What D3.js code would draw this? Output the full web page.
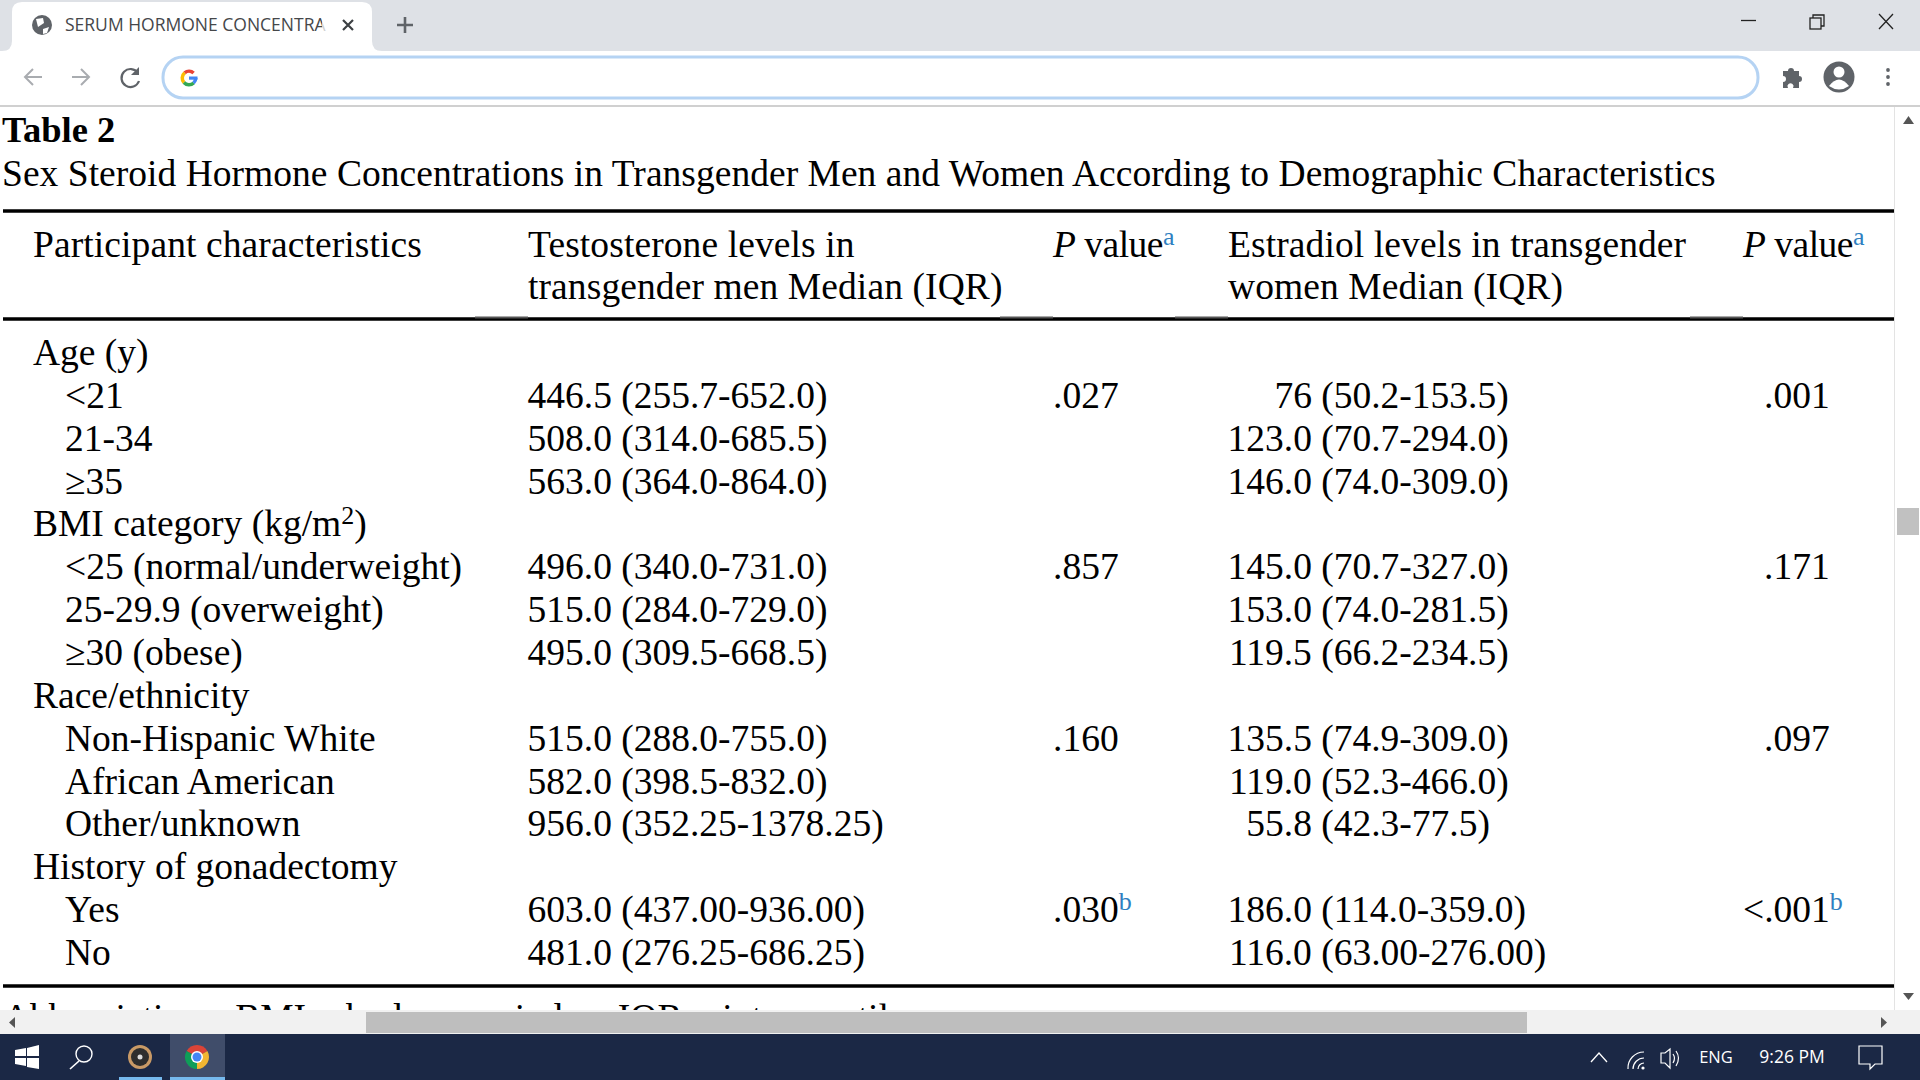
<!DOCTYPE html>
<html lang="en">

<head>
    <meta charset="utf-8">
    <script src="https://d3js.org/d3.v7.min.js"></script>
    <style>
        html, body { margin: 0; padding: 0; background: #fff; overflow: hidden; }
        svg { display: block; }
        .doc { font-family: "Liberation Serif", serif; fill: #000; }
        .ui { font-family: "Open Sans", "Noto Sans", sans-serif; }
    </style>
</head>

<body>
    <svg width="1920" height="1080"></svg>

    <script>
        // table content
        var tableLabel = "Table 2";
        var tableTitle = "Sex Steroid Hormone Concentrations in Transgender Men and Women According to Demographic Characteristics";
        var footnote = "Abbreviations: BMI = body mass index; IQR = interquartile range.";

        var characteristics = ["Age (y)", "<21", "21-34", "\u226535", "BMI category (kg/m|2|)",
            "<25 (normal/underweight)", "25-29.9 (overweight)", "\u226530 (obese)", "Race/ethnicity",
            "Non-Hispanic White", "African American", "Other/unknown", "History of gonadectomy", "Yes", "No"];
        var isGroupRow = [1, 0, 0, 0, 1, 0, 0, 0, 1, 0, 0, 0, 1, 0, 0];
        var testosterone = ["", "446.5 (255.7-652.0)", "508.0 (314.0-685.5)", "563.0 (364.0-864.0)", "",
            "496.0 (340.0-731.0)", "515.0 (284.0-729.0)", "495.0 (309.5-668.5)", "",
            "515.0 (288.0-755.0)", "582.0 (398.5-832.0)", "956.0 (352.25-1378.25)", "",
            "603.0 (437.00-936.00)", "481.0 (276.25-686.25)"];
        var testosteroneP = ["", ".027", "", "", "", ".857", "", "", "", ".160", "", "", "", ".030", ""];
        var testosteronePNote = ["", "", "", "", "", "", "", "", "", "", "", "", "", "b", ""];
        var estradiol = ["", "76 (50.2-153.5)", "123.0 (70.7-294.0)", "146.0 (74.0-309.0)", "",
            "145.0 (70.7-327.0)", "153.0 (74.0-281.5)", "119.5 (66.2-234.5)", "",
            "135.5 (74.9-309.0)", "119.0 (52.3-466.0)", "55.8 (42.3-77.5)", "",
            "186.0 (114.0-359.0)", "116.0 (63.00-276.00)"];
        var estradiolP = ["", ".001", "", "", "", ".171", "", "", "", ".097", "", "", "", "<.001", ""];
        var estradiolPNote = ["", "", "", "", "", "", "", "", "", "", "", "", "", "b", ""];

        var columns = ["characteristic", "testosterone", "testosteroneP", "estradiol", "estradiolP"];

        var svg = d3.select("svg");
        var textSize = 37.5;
        var noteSize = 26;
        var noteBlue = "#2f7fc1";

        //scales for the table grid
        var y = d3.scalePoint()
            .domain(d3.range(characteristics.length))
            .range([365, 965]);

        var x = d3.scaleOrdinal()
            .domain(columns)
            .range([33, 528, 1053, 1228, 1743]);

        var pageClip = svg.append("clipPath").attr("id", "pageClip");
        pageClip.append("rect").attr("x", 0).attr("y", 106).attr("width", 1894).attr("height", 904);

        var page = svg.append("g").attr("class", "doc").attr("clip-path", "url(#pageClip)");

        //title block
        page.append("text").attr("x", 2).attr("y", 142)
            .attr("font-size", 36.5).attr("font-weight", "bold").text(tableLabel);
        page.append("text").attr("x", 2).attr("y", 185.5)
            .attr("font-size", textSize).attr("letter-spacing", 0.03).text(tableTitle);

        //the three rules
        page.selectAll(".rule")
            .data([211, 319, 986])
            .enter().append("line")
            .attr("class", "rule")
            .attr("x1", 3).attr("x2", 1894)
            .attr("y1", function (d) { return d; })
            .attr("y2", function (d) { return d; })
            .attr("stroke", "#000").attr("stroke-width", 3.5);

        //the header rule is a bit heavier in the gaps between columns
        page.selectAll(".rule-gap")
            .data(columns.slice(1))
            .enter().append("rect")
            .attr("class", "rule-gap")
            .attr("x", function (d) { return x(d) - 53; })
            .attr("y", 316.5)
            .attr("width", 53)
            .attr("height", 2)
            .attr("fill", "#555");

        //header
        function header(col, top, bottom) {
            page.append("text").attr("x", x(col)).attr("y", 256.5).attr("font-size", textSize)
                .attr("letter-spacing", 0.1).text(top);
            if (bottom) {
                page.append("text").attr("x", x(col)).attr("y", 298.5).attr("font-size", textSize)
                    .attr("letter-spacing", 0.1).text(bottom);
            }
        }

        function pHeader(col) {
            var t = page.append("text").attr("x", x(col)).attr("y", 256.5).attr("font-size", textSize)
                .attr("letter-spacing", -0.5);
            t.append("tspan").attr("font-style", "italic").text("P");
            t.append("tspan").text(" value");
            t.append("tspan").attr("font-size", noteSize).attr("dy", -12).attr("fill", noteBlue).text("a");
        }

        header("characteristic", "Participant characteristics");
        header("testosterone", "Testosterone levels in", "transgender men Median (IQR)");
        pHeader("testosteroneP");
        header("estradiol", "Estradiol levels in transgender", "women Median (IQR)");
        pHeader("estradiolP");

        //first column
        page.selectAll(".label")
            .data(characteristics)
            .enter().append("text")
            .attr("class", "label")
            .attr("x", function (d, i) { return x("characteristic") + (isGroupRow[i] ? 0 : 32); })
            .attr("y", function (d, i) { return y(i); })
            .attr("font-size", textSize)
            .each(function (d) {
                // the | marks a superscript
                var parts = d.split("|");
                var t = d3.select(this);
                t.append("tspan").text(parts[0]);
                if (parts.length > 1) {
                    t.append("tspan").attr("font-size", noteSize).attr("dy", -12).text(parts[1]);
                    t.append("tspan").attr("dy", 12).text(parts[2]);
                }
            });

        //median (IQR) cells line up on the opening bracket
        function medianColumn(values, col, bracketX) {
            page.selectAll(".cell-" + col)
                .data(values)
                .enter().append("text")
                .attr("class", "cell-" + col)
                .attr("y", function (d, i) { return y(i); })
                .attr("font-size", textSize)
                .text(function (d) { return d; })
                .attr("x", function (d) {
                    if (!d) return 0;
                    return bracketX - this.getSubStringLength(0, d.indexOf("("));
                });
        }

        var probe = page.append("text").attr("font-size", textSize).text("123.0 (");
        var medianWidth = probe.node().getSubStringLength(0, 6);
        probe.remove();

        medianColumn(testosterone, "testosterone", x("testosterone") + medianWidth - 0.5);
        medianColumn(estradiol, "estradiol", x("estradiol") + medianWidth - 0.5);

        //p value cells
        function pColumn(values, notes, col, shift) {
            page.selectAll(".cell-" + col)
                .data(values)
                .enter().append("text")
                .attr("class", "cell-" + col)
                .attr("y", function (d, i) { return y(i); })
                .attr("x", function (d) { return x(col) + (d.charAt(0) === "<" ? 0 : shift); })
                .attr("font-size", textSize)
                .each(function (d, i) {
                    var t = d3.select(this);
                    t.append("tspan").text(d);
                    if (notes[i]) {
                        t.append("tspan").attr("font-size", noteSize).attr("dy", -12).attr("fill", noteBlue).text(notes[i]);
                    }
                });
        }

        pColumn(testosteroneP, testosteronePNote, "testosteroneP", 0);
        pColumn(estradiolP, estradiolPNote, "estradiolP", 21);

        //cut off by the window edge
        page.append("text").attr("x", 3).attr("y", 1030).attr("font-size", textSize).text(footnote);

        // browser tab strip
        var chrome = svg.append("g");
        chrome.append("rect").attr("width", 1920).attr("height", 51).attr("fill", "#dee1e6");
        chrome.append("rect").attr("y", 51).attr("width", 1920).attr("height", 54).attr("fill", "#fff");
        chrome.append("rect").attr("y", 105).attr("width", 1920).attr("height", 2).attr("fill", "#d0d0d0");
        chrome.append("path")
            .attr("d", "M2,51 Q12,51 12,41 V12 Q12,2 22,2 H362 Q372,2 372,12 V41 Q372,51 382,51 Z")
            .attr("fill", "#fff");
        chrome.append("circle").attr("cx", 42).attr("cy", 25).attr("r", 10).attr("fill", "#5f6368");
        chrome.append("path").attr("d", "M36,19 L43,18 L44,23 L38,27 Z M43,29 L49,27 L47,33 L43,34 Z").attr("fill", "#fff");
        chrome.append("text").attr("class", "ui").attr("x", 65).attr("y", 31)
            .attr("font-size", 17.5).attr("fill", "#45474a").text("SERUM HORMONE CONCENTRA");
        chrome.append("rect").attr("x", 322).attr("y", 10).attr("width", 12).attr("height", 30).attr("fill", "#fff").attr("opacity", 0.75);
        chrome.append("path").attr("d", "M343,20 L353,30 M353,20 L343,30")
            .attr("stroke", "#3c4043").attr("stroke-width", 2.2);
        chrome.append("path").attr("d", "M405,17 V33 M397,25 H413")
            .attr("stroke", "#5f6368").attr("stroke-width", 2.6);

        //window buttons
        chrome.append("path").attr("d", "M1741,20.5 H1756").attr("stroke", "#222").attr("stroke-width", 1.3);
        chrome.append("rect").attr("x", 1810).attr("y", 18).attr("width", 11).attr("height", 11)
            .attr("fill", "none").attr("stroke", "#222").attr("stroke-width", 1.3);
        chrome.append("path").attr("d", "M1813,18 V15 H1824 V26 H1821").attr("fill", "none").attr("stroke", "#222").attr("stroke-width", 1.3);
        chrome.append("path").attr("d", "M1879,14 L1893,29 M1893,14 L1879,29").attr("stroke", "#222").attr("stroke-width", 1.3);

        //toolbar
        chrome.append("path").attr("d", "M42,77 H25 M33,69 L25,77 L33,85").attr("fill", "none")
            .attr("stroke", "#a9acb0").attr("stroke-width", 2);
        chrome.append("path").attr("d", "M72,77 H89 M81,69 L89,77 L81,85").attr("fill", "none")
            .attr("stroke", "#a9acb0").attr("stroke-width", 2);
        chrome.append("path").attr("d", "M138,73 A9,9 0 1 0 139,81").attr("fill", "none")
            .attr("stroke", "#5f6368").attr("stroke-width", 2.2);
        chrome.append("path").attr("d", "M139,67 V75 H131 Z").attr("fill", "#5f6368");
        chrome.append("rect").attr("x", 163).attr("y", 57).attr("width", 1595).attr("height", 41).attr("rx", 20)
            .attr("fill", "#fff").attr("stroke", "#b5d3f3").attr("stroke-width", 3);

        //google mark
        var gArc = d3.arc().innerRadius(5).outerRadius(8.5);
        var gColours = [["#ea4335", -0.7, 0.75], ["#fbbc05", -2.3, -0.7], ["#34a853", -3.9, -2.3], ["#4285f4", 1.57, 2.4]];
        chrome.selectAll(".g-mark")
            .data(gColours)
            .enter().append("path")
            .attr("class", "g-mark")
            .attr("transform", "translate(189,78)")
            .attr("d", function (d) { return gArc({ startAngle: d[1], endAngle: d[2] }); })
            .attr("fill", function (d) { return d[0]; });
        chrome.append("rect").attr("x", 189).attr("y", 76.5).attr("width", 8.5).attr("height", 3.2).attr("fill", "#4285f4");

        //extension, profile and menu
        chrome.append("path")
            .attr("d", "M1783,71 h5 a3,3 0 1 1 6,0 h5 v5 a3,3 0 1 1 0,6 v6 h-6 a3,3 0 1 0 -5,0 h-5 v-6 a3,3 0 1 0 0,-6 Z")
            .attr("fill", "#5f6368");
        chrome.append("circle").attr("cx", 1839).attr("cy", 77).attr("r", 15.5).attr("fill", "#5f6368");
        chrome.append("circle").attr("cx", 1839).attr("cy", 72).attr("r", 5.5).attr("fill", "#fff");
        chrome.append("path").attr("d", "M1829,86 Q1839,73 1849,86 Q1839,93 1829,86 Z").attr("fill", "#fff");
        chrome.selectAll(".menu-dot")
            .data([70, 77, 84])
            .enter().append("circle")
            .attr("class", "menu-dot")
            .attr("cx", 1888).attr("r", 1.9)
            .attr("cy", function (d) { return d; })
            .attr("fill", "#5f6368");

        //scrollbars
        chrome.append("rect").attr("x", 1894).attr("y", 107).attr("width", 26).attr("height", 903).attr("fill", "#fff");
        chrome.append("line").attr("x1", 1894.5).attr("x2", 1894.5).attr("y1", 107).attr("y2", 1034).attr("stroke", "#e3e3e3");
        chrome.append("rect").attr("x", 1897).attr("y", 508).attr("width", 22).attr("height", 27).attr("fill", "#c1c1c1");
        chrome.append("path").attr("d", "M1903,124 L1914,124 L1908.5,116 Z").attr("fill", "#555");
        chrome.append("path").attr("d", "M1903,993 L1914,993 L1908.5,1000 Z").attr("fill", "#555");
        chrome.append("rect").attr("y", 1010).attr("width", 1920).attr("height", 24).attr("fill", "#f1f1f1");
        chrome.append("rect").attr("x", 366).attr("y", 1012).attr("width", 1161).attr("height", 21).attr("fill", "#bebebe");
        chrome.append("path").attr("d", "M15,1017 V1028 L9,1022.5 Z").attr("fill", "#555");
        chrome.append("path").attr("d", "M1881,1017 V1028 L1887,1022.5 Z").attr("fill", "#555");

        // windows taskbar
        var bar = svg.append("g");
        bar.append("rect").attr("y", 1034).attr("width", 1920).attr("height", 46).attr("fill", "#1b2845");
        bar.append("rect").attr("x", 170).attr("y", 1034).attr("width", 55).attr("height", 46).attr("fill", "#404d6a");
        bar.append("rect").attr("x", 119).attr("y", 1077).attr("width", 43).attr("height", 3).attr("fill", "#76b9ed");
        bar.append("rect").attr("x", 170).attr("y", 1077).attr("width", 55).attr("height", 3).attr("fill", "#76b9ed");
        bar.append("path").attr("d", "M15,1050 L26,1048 V1056 H15 Z M27,1048 L39,1045 V1056 H27 Z M15,1058 H26 V1066 L15,1064 Z M27,1058 H39 V1069 L27,1067 Z")
            .attr("fill", "#fff");
        bar.append("circle").attr("cx", 84).attr("cy", 1054).attr("r", 8).attr("fill", "none").attr("stroke", "#fff").attr("stroke-width", 1.4);
        bar.append("path").attr("d", "M79,1061 L70,1069").attr("stroke", "#fff").attr("stroke-width", 1.6);
        bar.append("circle").attr("cx", 140).attr("cy", 1057).attr("r", 12).attr("fill", "#c99a66");
        bar.append("circle").attr("cx", 140).attr("cy", 1057).attr("r", 9).attr("fill", "#2e2e2e");
        bar.append("circle").attr("cx", 140).attr("cy", 1057).attr("r", 2.5).attr("fill", "#ddd");

        //chrome logo
        var logoArc = d3.arc().innerRadius(0).outerRadius(12);
        var logoColours = [["#db4437", -1.05, 1.05], ["#f2b632", 1.05, 3.14], ["#0f9d58", 3.14, 5.24]];
        bar.selectAll(".logo")
            .data(logoColours)
            .enter().append("path")
            .attr("class", "logo")
            .attr("transform", "translate(197,1057)")
            .attr("d", function (d) { return logoArc({ startAngle: d[1], endAngle: d[2] }); })
            .attr("fill", function (d) { return d[0]; });
        bar.append("circle").attr("cx", 197).attr("cy", 1057).attr("r", 6).attr("fill", "#fff");
        bar.append("circle").attr("cx", 197).attr("cy", 1057).attr("r", 4.5).attr("fill", "#4285f4");

        //tray
        bar.append("path").attr("d", "M1591,1062 L1599,1053 L1607,1062").attr("fill", "none").attr("stroke", "#fff").attr("stroke-width", 1.3);
        bar.append("path").attr("d", "M1628,1069 A16,16 0 0 1 1644,1052 M1633,1069 A11,11 0 0 1 1644,1058 M1638,1069 A6,6 0 0 1 1644,1063")
            .attr("fill", "none").attr("stroke", "#fff").attr("stroke-width", 1.2);
        bar.append("circle").attr("cx", 1643).attr("cy", 1068).attr("r", 1.6).attr("fill", "#fff");
        bar.append("path").attr("d", "M1661,1053 V1063 H1665 L1670,1068 V1049 L1665,1053 Z M1673,1054 Q1676,1058 1673,1063 M1676,1051 Q1681,1058 1676,1066")
            .attr("fill", "none").attr("stroke", "#fff").attr("stroke-width", 1.2);
        bar.append("text").attr("class", "ui").attr("x", 1716).attr("y", 1063)
            .attr("text-anchor", "middle").attr("font-size", 16.5).attr("fill", "#fff").text("ENG");
        bar.append("text").attr("class", "ui").attr("x", 1792).attr("y", 1063)
            .attr("text-anchor", "middle").attr("font-size", 17.5).attr("fill", "#fff").text("9:26 PM");
        bar.append("path").attr("d", "M1859,1046 H1882 V1064 H1875 L1870,1069 V1064 H1859 Z")
            .attr("fill", "none").attr("stroke", "#fff").attr("stroke-width", 1.2);
    </script>
</body>

</html>
